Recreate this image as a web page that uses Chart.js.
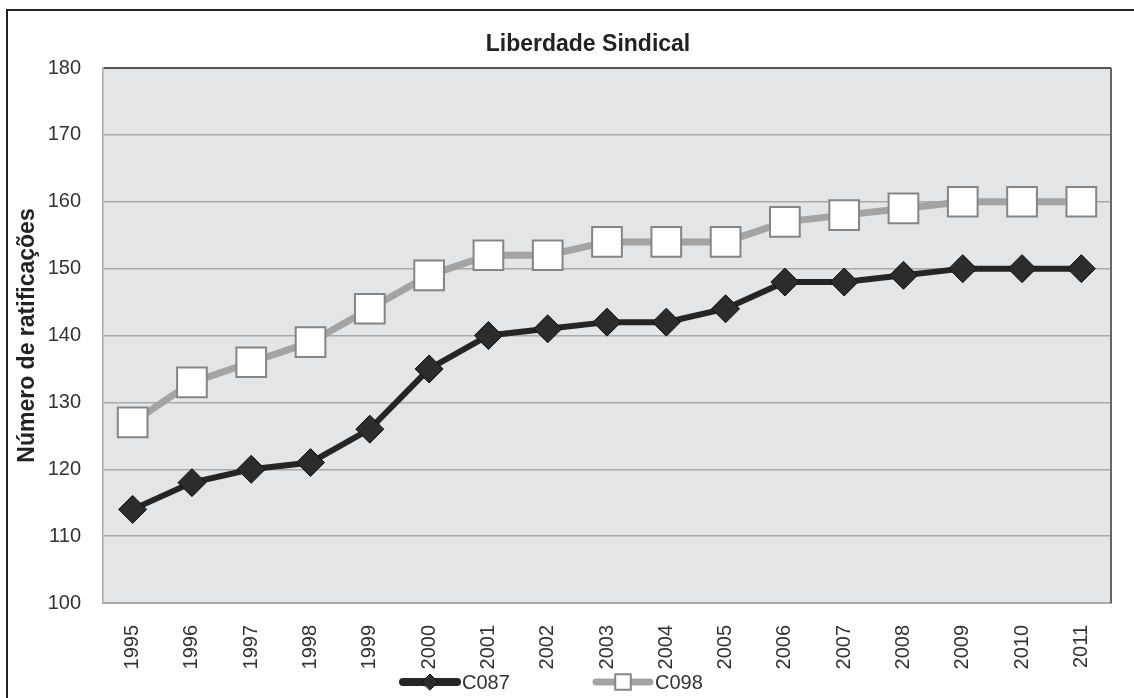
<!DOCTYPE html>
<html>
<head>
<meta charset="utf-8">
<script src="https://cdn.jsdelivr.net/npm/chart.js@4/dist/chart.umd.min.js"></script>
<style>
  html, body { margin: 0; padding: 0; background: #fff; overflow: hidden; }
  #wrap { position: relative; width: 1134px; height: 698px; }
  #frame { position: absolute; left: 6px; top: 9px; right: -10px; bottom: -10px; border: 2px solid #222; }
  canvas { position: absolute; left: 0; top: 0; }
</style>
</head>
<body>
<div id="wrap">
  <div id="frame"></div>
  <canvas id="grafico" width="1134" height="698"></canvas>
</div>
<script>
// dados
const anos = ['1995', '1996', '1997', '1998', '1999', '2000', '2001', '2002', '2003',
  '2004', '2005', '2006', '2007', '2008', '2009', '2010', '2011'];
const c087 = [114, 118, 120, 121, 126, 135, 140, 141, 142, 142, 144, 148, 148, 149, 150, 150, 150];
const c098 = [127, 133, 136, 139, 144, 149, 152, 152, 154, 154, 154, 157, 158, 159, 160, 160, 160];
const eixoY = { min: 100, max: 180, passo: 10 };
const titulo = 'Liberdade Sindical';
const tituloY = 'Número de ratificações';

const fonte = "'Liberation Sans', Arial, sans-serif";

// fundo da área do gráfico + borda direita
const fundoPlugin = {
  id: 'fundo',
  beforeDraw(chart) {
    const { ctx, chartArea: a } = chart;
    ctx.save();
    ctx.fillStyle = '#e4e5e7';
    ctx.fillRect(a.left, a.top, a.right - a.left, a.bottom - a.top);
    ctx.restore();
  },
  beforeDatasetsDraw(chart) {
    const { ctx, chartArea: a } = chart;
    ctx.save();
    ctx.strokeStyle = '#666';
    ctx.lineWidth = 2;
    ctx.beginPath();
    ctx.moveTo(a.right, a.top);
    ctx.lineTo(a.right, a.bottom);
    ctx.stroke();
    ctx.restore();
  }
};

// título e legenda
const textosPlugin = {
  id: 'textos',
  afterDraw(chart) {
    const { ctx, chartArea: a } = chart;
    ctx.save();
    ctx.fillStyle = '#222';
    ctx.font = 'bold 23px ' + fonte;
    ctx.textAlign = 'center';
    ctx.textBaseline = 'middle';
    ctx.fillText(titulo, a.left + 485, 45);

    // legenda
    const y = 682;
    let x = 400;
    chart.data.datasets.forEach(ds => {
      ctx.strokeStyle = ds.borderColor;
      ctx.lineWidth = ds.legendaLinha;
      ctx.lineCap = 'round';
      ctx.beginPath();
      ctx.moveTo(x + 3, y);
      ctx.lineTo(x + 57, y);
      ctx.stroke();
      ctx.fillStyle = ds.pointBackgroundColor;
      ctx.strokeStyle = ds.pointBorderColor;
      ctx.lineWidth = ds.pointBorderWidth;
      Chart.helpers.drawPoint(ctx, { pointStyle: ds.pointStyle, radius: ds.legendaRaio, borderWidth: ds.pointBorderWidth, rotation: 0 }, x + 30, y);
      ctx.fillStyle = '#333';
      ctx.font = '20px ' + fonte;
      ctx.textAlign = 'left';
      ctx.fillText(ds.label, x + 62, y + 1);
      x += 193;
    });
    ctx.restore();
  }
};

new Chart(document.getElementById('grafico'), {
  type: 'line',
  data: {
    labels: anos,
    datasets: [
      {
        label: 'C087',
        data: c087,
        borderColor: '#252525',
        borderWidth: 6,
        pointStyle: 'rectRot',
        pointRadius: 14,
        pointBackgroundColor: '#2c2c2c',
        pointBorderColor: '#111',
        pointBorderWidth: 1,
        legendaLinha: 8,
        legendaRaio: 8,
        tension: 0
      },
      {
        label: 'C098',
        data: c098,
        borderColor: '#a4a4a4',
        borderWidth: 7,
        pointStyle: 'rect',
        pointRadius: 21,
        pointBackgroundColor: '#ffffff',
        pointBorderColor: '#858585',
        pointBorderWidth: 2,
        legendaLinha: 7,
        legendaRaio: 11,
        tension: 0
      }
    ]
  },
  options: {
    responsive: false,
    animation: false,
    layout: { padding: { left: 0, right: 23, top: 68, bottom: 0 } },
    plugins: {
      legend: { display: false },
      title: { display: false },
      tooltip: { enabled: false }
    },
    scales: {
      x: {
        offset: true,
        grid: { display: false },
        border: { display: true, color: '#aaa', width: 2 },
        ticks: {
          autoSkip: false,
          minRotation: 90,
          maxRotation: 90,
          padding: 14,
          color: '#333',
          font: { family: fonte, size: 20 }
        },
        afterFit(scale) { scale.height = 95; }
      },
      y: {
        min: eixoY.min,
        max: eixoY.max,
        grid: {
          drawTicks: false,
          color: c => (c.tick && c.tick.value === eixoY.max ? '#555' : '#a9a9a9'),
          lineWidth: c => (c.tick && c.tick.value === eixoY.max ? 2 : 1.5)
        },
        border: { display: true, color: '#aaa', width: 1.5 },
        ticks: {
          stepSize: eixoY.passo,
          padding: 22,
          color: '#333',
          font: { family: fonte, size: 20 }
        },
        title: {
          display: true,
          text: tituloY,
          color: '#222',
          padding: { top: 14, bottom: 0 },
          font: { family: fonte, size: 23, weight: 'bold' }
        },
        afterFit(scale) { scale.width = 103; }
      }
    }
  },
  plugins: [fundoPlugin, textosPlugin]
});
</script>
</body>
</html>
